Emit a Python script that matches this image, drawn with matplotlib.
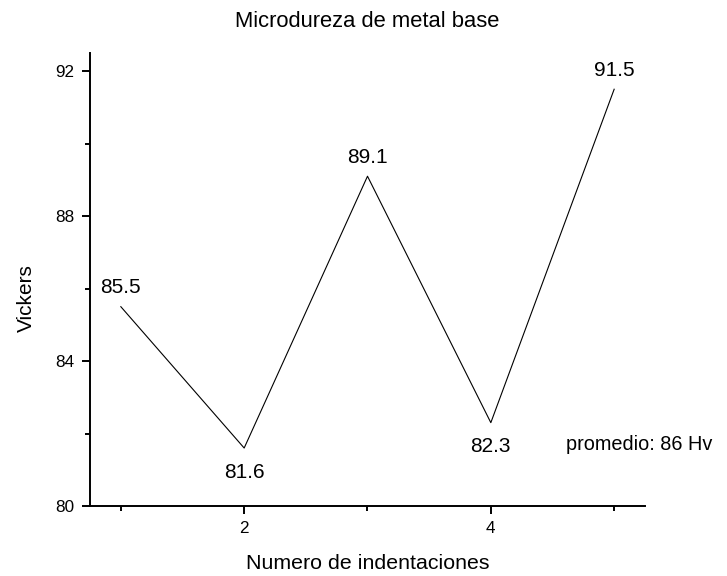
import matplotlib
matplotlib.use("Agg")
import matplotlib.pyplot as plt
from matplotlib.ticker import FixedLocator

plt.rcParams["font.family"] = ["Liberation Sans", "DejaVu Sans"]

# indentation number vs Vickers hardness
indent = [1, 2, 3, 4, 5]
vickers = [85.5, 81.6, 89.1, 82.3, 91.5]
label_pos = ["above", "below", "above", "below", "above"]
avg_text = "promedio: 86 Hv"

fig = plt.figure(figsize=(7.27, 5.76), dpi=100)
ax = fig.add_axes([0.1238, 0.1215, 0.7634, 0.7865])

ax.plot(indent, vickers, color="black", linewidth=0.8)

for x, y, pos in zip(indent, vickers, label_pos):
    dy = 15 if pos == "above" else -16
    ax.annotate(f"{y}", (x, y), xytext=(0, dy), textcoords="offset points",
                ha="center", va="center_baseline", fontsize=15)

ax.text(4.61, 81.75, avg_text, ha="left", va="center_baseline", fontsize=14.3)

ax.set_xlim(0.75, 5.25)
ax.set_ylim(80, 92.5)
ax.xaxis.set_major_locator(FixedLocator([2, 4]))
ax.xaxis.set_minor_locator(FixedLocator([1, 3, 5]))
ax.yaxis.set_major_locator(FixedLocator([80, 84, 88, 92]))
ax.yaxis.set_minor_locator(FixedLocator([82, 86, 90]))

for s in ["top", "right"]:
    ax.spines[s].set_visible(False)
for s in ["left", "bottom"]:
    ax.spines[s].set_linewidth(1.4)

ax.tick_params(which="major", direction="out", length=6, width=1.4,
               labelsize=12.3, pad=5)
ax.tick_params(which="minor", direction="out", length=3.5, width=1.4)

ax.set_title("Microdureza de metal base", fontsize=15.8, pad=19)
ax.set_xlabel("Numero de indentaciones", fontsize=15.4, labelpad=13)
ax.set_ylabel("Vickers", fontsize=15)
ax.yaxis.set_label_coords(-0.097, 0.46)

fig.savefig("out.png", dpi=100)
